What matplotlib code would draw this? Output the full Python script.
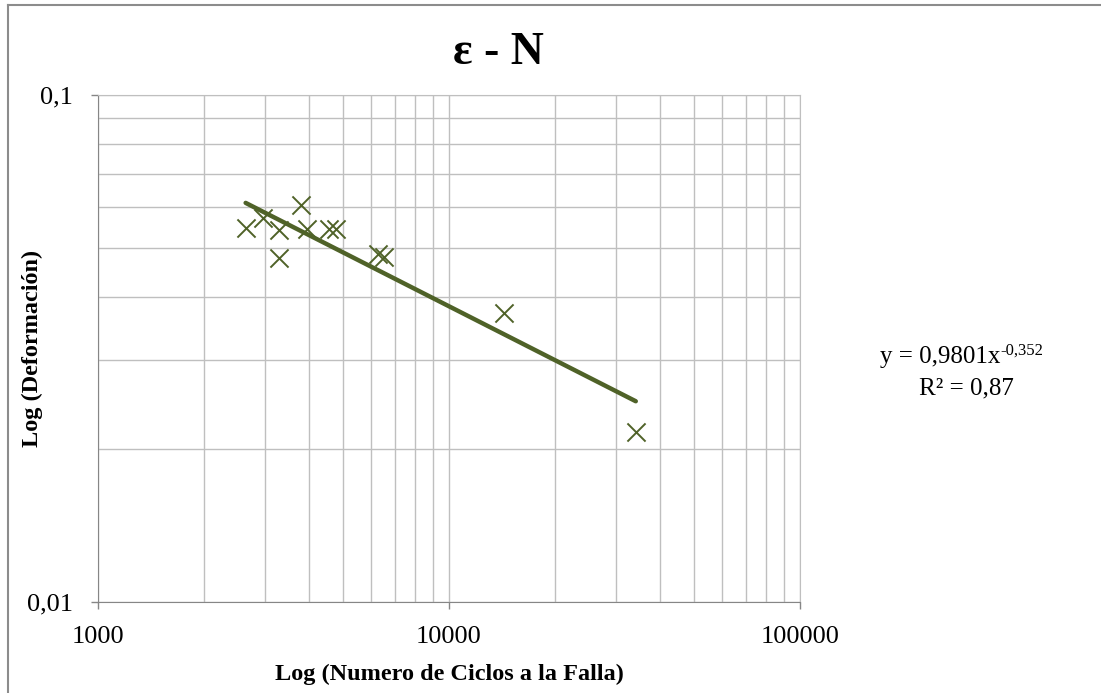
import matplotlib
matplotlib.use('Agg')
import matplotlib.pyplot as plt
from matplotlib.ticker import LogLocator, FixedLocator, NullFormatter
from matplotlib.lines import Line2D
import numpy as np

# Data
ciclos = [2634, 2949, 3289, 3289, 3790, 3932, 4560, 4766, 6257, 6537, 14330, 34050]
deformacion = [0.0547, 0.0571, 0.0542, 0.0476, 0.0607, 0.0543, 0.0543, 0.0543,
               0.0486, 0.0479, 0.0371, 0.0216]

# Power trendline shown on the chart
coef_a = 0.9801
coef_b = -0.352
eq_main = 'y = 0,9801x'
eq_exp = '-0,352'
r2_text = 'R² = 0,87'

x_ticks = [1000, 10000, 100000]
x_labels = ['1000', '10000', '100000']
y_ticks = [0.01, 0.1]
y_labels = ['0,01', '0,1']

verde = '#4F6228'
gris_grid = '#BFBFBF'
gris_eje = '#868686'

plt.rcParams['font.family'] = ['Liberation Serif', 'DejaVu Serif']

fig = plt.figure(figsize=(11.01, 6.93), dpi=100)
ax = fig.add_axes([98 / 1101, 91 / 693, 702 / 1101, 507 / 693])

ax.set_xscale('log')
ax.set_yscale('log')
ax.set_xlim(1000, 100000)
ax.set_ylim(0.01, 0.1)

# Grid (major + minor)
ax.xaxis.set_minor_locator(LogLocator(base=10, subs=np.arange(2, 10)))
ax.yaxis.set_minor_locator(LogLocator(base=10, subs=np.arange(2, 10)))
ax.xaxis.set_minor_formatter(NullFormatter())
ax.yaxis.set_minor_formatter(NullFormatter())
ax.grid(True, which='both', color=gris_grid, lw=1.0)
ax.set_axisbelow(True)

ax.xaxis.set_major_locator(FixedLocator(x_ticks))
ax.set_xticklabels(x_labels)
ax.yaxis.set_major_locator(FixedLocator(y_ticks))
ax.set_yticklabels(y_labels)
ax.tick_params(which='major', direction='out', length=5, width=1, color=gris_eje,
               labelsize=19)
ax.tick_params(axis='x', pad=12)
ax.tick_params(axis='y', pad=13)
ax.tick_params(which='minor', length=0)
for s in ax.spines.values():
    s.set_color(gris_grid)
ax.spines['left'].set_color(gris_eje)
ax.spines['bottom'].set_color(gris_eje)

# Trendline
xt = np.array([min(ciclos), max(ciclos)])
yt = coef_a * xt ** coef_b
ax.plot(xt, yt, color=verde, lw=3.2, solid_capstyle='round', zorder=3)

# Points
ax.scatter(ciclos, deformacion, marker='x', s=170, color=verde, linewidths=1.4, zorder=4)

ax.set_xlabel('Log (Numero de Ciclos a la Falla)', fontsize=17.5, fontweight='bold')
ax.set_ylabel('Log (Deformación)', fontsize=17.5, fontweight='bold')
ax.yaxis.set_label_coords(-0.078, 0.5)
ax.xaxis.set_label_coords(0.5, -0.122)

fig.text(498 / 1101, 1 - 53 / 693, 'ε - N', fontsize=33, fontweight='bold',
         ha='center', va='center')

# Trendline equation
t_eq = fig.text(880 / 1101, 1 - 357 / 693, eq_main, fontsize=18, ha='left', va='center')
ax.annotate(eq_exp, xy=(1, 0.78), xycoords=t_eq, fontsize=12, ha='left', va='center')
fig.text(966 / 1101, 1 - 388 / 693, r2_text, fontsize=18, ha='center', va='center')

# Outer chart border (left and top visible)
fig.add_artist(Line2D([8 / 1101, 8 / 1101], [0, 1 - 5 / 693], color='#8C8C8C', lw=1.5,
                      transform=fig.transFigure))
fig.add_artist(Line2D([8 / 1101, 1], [1 - 5 / 693, 1 - 5 / 693], color='#8C8C8C', lw=1.5,
                      transform=fig.transFigure))

fig.savefig('out.png', dpi=100)
